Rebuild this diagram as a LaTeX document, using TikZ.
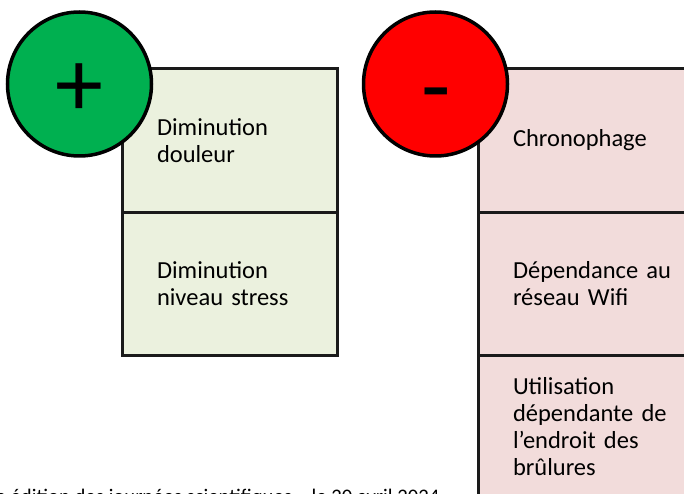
\documentclass[tikz,border=0pt]{standalone}
\usepackage{fontspec}
\setmainfont{Carlito}
\usetikzlibrary{shapes, positioning}
\definecolor{vertplus}{HTML}{00B050}
\definecolor{rougemoins}{HTML}{FF0000}
\definecolor{fondplus}{HTML}{EBF1DE}
\definecolor{fondmoins}{HTML}{F2DCDB}
\definecolor{bord}{HTML}{1A1A1A}
\tikzstyle{signe} = [circle, draw=black, line width=3.5pt, minimum size=144pt, inner sep=0pt]
\tikzstyle{symbole} = [inner sep=0pt, font=\fontsize{96}{96}\selectfont]
\tikzstyle{case} = [rectangle, draw=bord, line width=3pt, outer sep=0pt, minimum height=143pt, inner xsep=35pt, align=left, font=\fontsize{24.5}{27}\selectfont]
\tikzstyle{caseplus} = [case, fill=fondplus, text width=145pt]
\tikzstyle{casemoins} = [case, fill=fondmoins, text width=172pt]

\begin{document}
\begin{tikzpicture}[x=1pt, y=-1pt]
	\useasboundingbox (0,0) rectangle (684,494);
	\node[caseplus] (douleur) at (229.5,140.5) {Diminution\\douleur};
	\node[caseplus, below=0pt of douleur] (stress) {Diminution\\niveau stress};
	\node[casemoins] (chrono) at (599,140.5) {Chronophage};
	\node[casemoins, below=0pt of chrono] (wifi) {Dépendance au\\réseau Wifi};
	\node[casemoins, below=0pt of wifi] (brulures) {Utilisation\\dépendante de\\l’endroit des\\brûlures};
	\node[signe, fill=vertplus] (plus) at (79.5,84) {};
	\node[signe, fill=rougemoins] (moins) at (435.5,84) {};
	\node[symbole, yshift=-6pt] (plustxt) at (plus.center) {+};
	\node[symbole, yshift=-19pt, xshift=1pt] (moinstxt) at (moins.center) {-};
	\node[anchor=base west, inner sep=0pt, font=\fontsize{20.7}{24}\selectfont] (journee) at (-4.5,503) {e édition des journées scientifiques – le 20 avril 2024};
\end{tikzpicture}
\end{document}
